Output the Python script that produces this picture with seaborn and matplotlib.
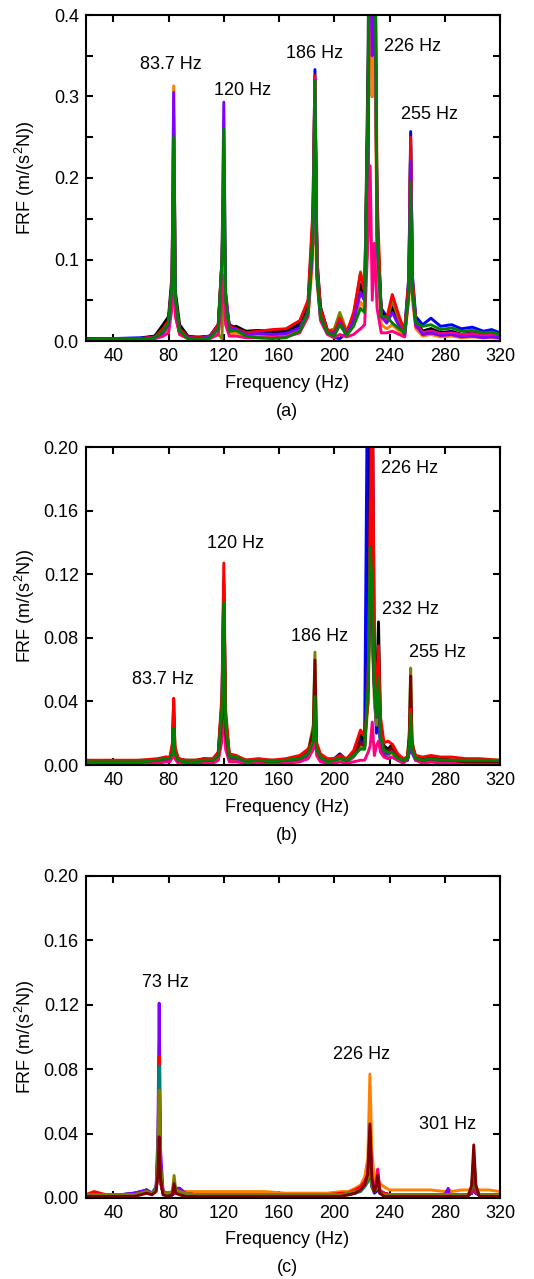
import numpy as np, pandas as pd
import matplotlib
matplotlib.use("Agg")
import matplotlib.pyplot as plt
import seaborn as sns
from matplotlib.ticker import MultipleLocator, FormatStrFormatter

# ---- panel (a): frequency grid + curves ----
freq_a = [20, 40, 60, 70, 76, 80, 82.5, 83.7, 85, 88,
          94, 102, 110, 116, 118.7, 120, 121.3, 124, 129, 136,
          145, 155, 165, 175, 181, 184.5, 186, 187.5, 190, 195,
          200, 204, 209, 214, 219, 222, 224.5, 226, 227.5, 229,
          231, 234, 238, 242, 247, 251, 254, 255.3, 256.6, 259,
          264, 270, 277, 285, 292, 300, 308, 314, 320]
a_blue = [0.003, 0.003, 0.004, 0.006, 0.014, 0.025, 0.07, 0.18, 0.05, 0.015,
          0.005, 0.005, 0.006, 0.02, 0.09, 0.15, 0.05, 0.02, 0.016, 0.01,
          0.012, 0.01, 0.012, 0.02, 0.045, 0.15, 0.333, 0.10, 0.04, 0.012,
          0.004, 0.003, 0.01, 0.03, 0.06, 0.05, 0.25, 0.65, 0.35, 0.6,
          0.14, 0.04, 0.03, 0.042, 0.025, 0.015, 0.08, 0.257, 0.08, 0.03,
          0.02, 0.028, 0.018, 0.02, 0.015, 0.017, 0.012, 0.014, 0.01]
a_navy = [0.002, 0.003, 0.003, 0.005, 0.012, 0.022, 0.06, 0.16, 0.045, 0.012,
          0.004, 0.004, 0.005, 0.018, 0.08, 0.14, 0.045, 0.018, 0.015, 0.008,
          0.01, 0.009, 0.011, 0.018, 0.04, 0.14, 0.29, 0.09, 0.042, 0.013,
          0.012, 0.02, 0.01, 0.028, 0.07, 0.055, 0.3, 0.7, 0.4, 0.55,
          0.13, 0.035, 0.025, 0.045, 0.022, 0.012, 0.07, 0.24, 0.07, 0.025,
          0.012, 0.015, 0.01, 0.012, 0.008, 0.01, 0.007, 0.008, 0.006]
a_black = [0.002, 0.002, 0.003, 0.006, 0.02, 0.03, 0.08, 0.275, 0.06, 0.02,
           0.006, 0.004, 0.006, 0.02, 0.1, 0.18, 0.05, 0.015, 0.018, 0.012,
           0.013, 0.012, 0.013, 0.022, 0.04, 0.12, 0.28, 0.09, 0.035, 0.012,
           0.01, 0.025, 0.008, 0.025, 0.065, 0.05, 0.35, 0.8, 0.3, 0.5,
           0.15, 0.035, 0.028, 0.04, 0.02, 0.01, 0.06, 0.2, 0.06, 0.022,
           0.012, 0.015, 0.01, 0.011, 0.008, 0.009, 0.006, 0.007, 0.005]
a_olive = [0.002, 0.002, 0.003, 0.004, 0.008, 0.015, 0.05, 0.14, 0.03, 0.01,
           0.004, 0.003, 0.004, 0.008, 0.003, 0.1, 0.03, 0.01, 0.012, 0.007,
           0.008, 0.007, 0.008, 0.015, 0.035, 0.12, 0.3, 0.08, 0.03, 0.012,
           0.015, 0.035, 0.012, 0.03, 0.085, 0.06, 0.3, 0.6, 0.35, 0.5,
           0.12, 0.03, 0.025, 0.05, 0.025, 0.012, 0.07, 0.245, 0.07, 0.02,
           0.01, 0.012, 0.008, 0.009, 0.006, 0.007, 0.005, 0.006, 0.004]
a_orange = [0.002, 0.002, 0.002, 0.003, 0.006, 0.012, 0.06, 0.313, 0.04, 0.008,
            0.003, 0.003, 0.004, 0.01, 0.06, 0.12, 0.03, 0.008, 0.01, 0.006,
            0.006, 0.005, 0.006, 0.012, 0.03, 0.1, 0.27, 0.07, 0.03, 0.01,
            0.008, 0.02, 0.008, 0.02, 0.048, 0.04, 0.25, 0.55, 0.3, 0.45,
            0.1, 0.02, 0.015, 0.02, 0.012, 0.006, 0.05, 0.18, 0.05, 0.015,
            0.006, 0.008, 0.005, 0.006, 0.004, 0.005, 0.004, 0.004, 0.003]
a_red = [0.002, 0.003, 0.003, 0.005, 0.015, 0.025, 0.07, 0.2, 0.05, 0.015,
         0.005, 0.004, 0.006, 0.02, 0.1, 0.2, 0.06, 0.018, 0.015, 0.01,
         0.012, 0.014, 0.015, 0.025, 0.05, 0.16, 0.326, 0.1, 0.04, 0.014,
         0.01, 0.028, 0.01, 0.035, 0.083, 0.06, 0.13, 0.75, 0.45, 0.65,
         0.18, 0.03, 0.028, 0.057, 0.03, 0.012, 0.075, 0.25, 0.075, 0.025,
         0.008, 0.01, 0.007, 0.008, 0.006, 0.007, 0.005, 0.006, 0.004]
a_pink = [0.002, 0.002, 0.002, 0.003, 0.006, 0.01, 0.04, 0.12, 0.03, 0.008,
          0.003, 0.002, 0.003, 0.008, 0.05, 0.08, 0.02, 0.006, 0.006, 0.004,
          0.004, 0.004, 0.005, 0.01, 0.03, 0.12, 0.323, 0.08, 0.025, 0.008,
          0.004, 0.008, 0.005, 0.008, 0.015, 0.02, 0.13, 0.215, 0.05, 0.12,
          0.04, 0.01, 0.01, 0.012, 0.008, 0.005, 0.06, 0.21, 0.06, 0.018,
          0.01, 0.012, 0.009, 0.01, 0.008, 0.009, 0.007, 0.008, 0.006]
a_purple = [0.002, 0.002, 0.003, 0.004, 0.01, 0.02, 0.07, 0.305, 0.05, 0.012,
            0.004, 0.003, 0.005, 0.015, 0.1, 0.293, 0.06, 0.015, 0.014, 0.008,
            0.009, 0.008, 0.009, 0.016, 0.035, 0.12, 0.3, 0.08, 0.03, 0.01,
            0.008, 0.022, 0.008, 0.025, 0.06, 0.05, 0.28, 0.6, 0.35, 0.55,
            0.12, 0.03, 0.022, 0.035, 0.018, 0.008, 0.06, 0.22, 0.06, 0.02,
            0.008, 0.01, 0.007, 0.008, 0.005, 0.006, 0.004, 0.005, 0.004]
a_green = [0.002, 0.002, 0.002, 0.004, 0.012, 0.022, 0.07, 0.25, 0.05, 0.012,
           0.003, 0.002, 0.004, 0.015, 0.1, 0.26, 0.05, 0.012, 0.013, 0.006,
           0.004, 0.003, 0.004, 0.012, 0.035, 0.13, 0.32, 0.08, 0.03, 0.01,
           0.006, 0.02, 0.007, 0.018, 0.04, 0.035, 0.3, 0.7, 0.4, 0.6,
           0.13, 0.03, 0.03, 0.022, 0.015, 0.01, 0.06, 0.195, 0.06, 0.022,
           0.018, 0.02, 0.014, 0.016, 0.012, 0.013, 0.01, 0.011, 0.008]

# ---- panel (b) ----
freq_b = [20, 40, 60, 72, 78, 81, 82.8, 83.7, 84.6, 87,
          92, 100, 106, 112, 116, 118.7, 120, 121.3, 124, 129,
          136, 145, 155, 165, 175, 181, 184.8, 186, 187.2, 190,
          195, 200, 204, 209, 214, 219, 222, 224.5, 226, 227.5,
          229, 230.5, 232, 233.5, 236, 239, 242, 246, 250, 253,
          254.3, 255.3, 256.3, 259, 264, 270, 277, 285, 295, 305,
          320]
b_navy = [0.002, 0.002, 0.002, 0.003, 0.004, 0.004, 0.008, 0.018, 0.006, 0.003,
          0.002, 0.002, 0.003, 0.003, 0.006, 0.03, 0.09, 0.02, 0.005, 0.004,
          0.002, 0.003, 0.002, 0.003, 0.004, 0.007, 0.012, 0.03, 0.01, 0.006,
          0.003, 0.004, 0.007, 0.003, 0.007, 0.016, 0.012, 0.09, 0.35, 0.25,
          0.08, 0.03, 0.04, 0.015, 0.01, 0.008, 0.01, 0.005, 0.003, 0.004,
          0.01, 0.025, 0.01, 0.004, 0.003, 0.004, 0.003, 0.003, 0.002, 0.002,
          0.002]
b_blue = [0.003, 0.002, 0.002, 0.002, 0.003, 0.003, 0.007, 0.015, 0.005, 0.002,
          0.002, 0.002, 0.002, 0.002, 0.004, 0.02, 0.08, 0.015, 0.003, 0.003,
          0.002, 0.002, 0.002, 0.002, 0.003, 0.005, 0.01, 0.025, 0.008, 0.003,
          0.001, 0.003, 0.006, 0.002, 0.005, 0.012, 0.02, 0.3, 0.25, 0.08,
          0.05, 0.02, 0.03, 0.012, 0.006, 0.004, 0.005, 0.003, 0.002, 0.003,
          0.008, 0.02, 0.008, 0.003, 0.002, 0.002, 0.002, 0.001, 0.001, 0.001,
          0.001]
b_black = [0.002, 0.002, 0.003, 0.003, 0.005, 0.004, 0.012, 0.040, 0.01, 0.004,
           0.003, 0.003, 0.004, 0.003, 0.008, 0.04, 0.114, 0.03, 0.006, 0.005,
           0.003, 0.003, 0.003, 0.003, 0.005, 0.008, 0.015, 0.035, 0.012, 0.006,
           0.003, 0.003, 0.005, 0.003, 0.008, 0.019, 0.015, 0.05, 0.12, 0.1,
           0.05, 0.04, 0.09, 0.025, 0.012, 0.01, 0.013, 0.006, 0.003, 0.004,
           0.01, 0.03, 0.01, 0.005, 0.004, 0.005, 0.004, 0.003, 0.003, 0.003,
           0.002]
b_olive = [0.002, 0.002, 0.002, 0.002, 0.003, 0.003, 0.008, 0.02, 0.006, 0.002,
           0.002, 0.002, 0.002, 0.002, 0.004, 0.02, 0.07, 0.015, 0.003, 0.003,
           0.002, 0.002, 0.002, 0.002, 0.004, 0.008, 0.025, 0.071, 0.012, 0.004,
           0.002, 0.002, 0.004, 0.002, 0.005, 0.012, 0.01, 0.04, 0.1, 0.08,
           0.04, 0.025, 0.04, 0.015, 0.008, 0.006, 0.008, 0.004, 0.002, 0.005,
           0.02, 0.061, 0.015, 0.004, 0.002, 0.003, 0.002, 0.002, 0.002, 0.002,
           0.001]
b_purple = [0.002, 0.002, 0.002, 0.002, 0.003, 0.003, 0.008, 0.02, 0.006, 0.003,
            0.002, 0.002, 0.003, 0.003, 0.006, 0.04, 0.116, 0.025, 0.004, 0.004,
            0.002, 0.002, 0.002, 0.002, 0.003, 0.006, 0.012, 0.03, 0.01, 0.004,
            0.002, 0.003, 0.005, 0.002, 0.006, 0.014, 0.012, 0.06, 0.1, 0.09,
            0.05, 0.03, 0.045, 0.015, 0.008, 0.007, 0.009, 0.004, 0.002, 0.003,
            0.008, 0.025, 0.008, 0.003, 0.002, 0.003, 0.002, 0.002, 0.002, 0.002,
            0.002]
b_pink = [0.001, 0.001, 0.001, 0.001, 0.002, 0.002, 0.005, 0.012, 0.004, 0.001,
          0.001, 0.001, 0.001, 0.001, 0.003, 0.015, 0.05, 0.01, 0.002, 0.002,
          0.001, 0.001, 0.001, 0.001, 0.002, 0.004, 0.01, 0.03, 0.006, 0.002,
          0.001, 0.001, 0.002, 0.001, 0.002, 0.003, 0.003, 0.008, 0.012, 0.027,
          0.006, 0.012, 0.015, 0.008, 0.005, 0.004, 0.005, 0.003, 0.001, 0.004,
          0.012, 0.035, 0.01, 0.003, 0.001, 0.002, 0.001, 0.001, 0.001, 0.001,
          0.001]
b_maroon = [0.002, 0.002, 0.002, 0.003, 0.004, 0.004, 0.01, 0.031, 0.008, 0.003,
            0.002, 0.002, 0.003, 0.003, 0.006, 0.03, 0.09, 0.02, 0.005, 0.005,
            0.003, 0.003, 0.002, 0.003, 0.004, 0.008, 0.022, 0.066, 0.012, 0.005,
            0.003, 0.003, 0.005, 0.003, 0.007, 0.014, 0.012, 0.05, 0.167, 0.12,
            0.05, 0.035, 0.06, 0.02, 0.01, 0.009, 0.011, 0.005, 0.003, 0.005,
            0.018, 0.056, 0.014, 0.004, 0.003, 0.004, 0.003, 0.003, 0.002, 0.002,
            0.002]
b_red = [0.003, 0.003, 0.003, 0.004, 0.005, 0.005, 0.014, 0.042, 0.012, 0.004,
         0.003, 0.003, 0.004, 0.004, 0.008, 0.045, 0.127, 0.035, 0.007, 0.006,
         0.003, 0.004, 0.003, 0.004, 0.006, 0.01, 0.015, 0.035, 0.014, 0.007,
         0.004, 0.004, 0.006, 0.004, 0.009, 0.022, 0.018, 0.04, 0.15, 0.25,
         0.07, 0.04, 0.075, 0.03, 0.014, 0.015, 0.013, 0.007, 0.004, 0.005,
         0.012, 0.035, 0.012, 0.006, 0.005, 0.006, 0.005, 0.005, 0.004, 0.004,
         0.003]
b_green = [0.002, 0.002, 0.002, 0.003, 0.004, 0.004, 0.008, 0.023, 0.007, 0.003,
           0.002, 0.002, 0.003, 0.003, 0.006, 0.035, 0.102, 0.025, 0.005, 0.005,
           0.002, 0.003, 0.002, 0.003, 0.004, 0.007, 0.015, 0.043, 0.01, 0.005,
           0.002, 0.003, 0.004, 0.003, 0.006, 0.01, 0.01, 0.05, 0.137, 0.11,
           0.05, 0.03, 0.055, 0.018, 0.009, 0.008, 0.008, 0.004, 0.003, 0.004,
           0.012, 0.032, 0.01, 0.004, 0.003, 0.004, 0.003, 0.003, 0.003, 0.003,
           0.003]

# ---- panel (c) ----
freq_c = [20, 26, 35, 45, 55, 60, 64, 68, 71, 72.3,
          73.2, 74.2, 76, 79, 82.8, 84, 85.2, 88, 92, 100,
          110, 120, 135, 150, 165, 180, 195, 205, 210, 215,
          219, 222, 224.3, 225.8, 227.2, 229, 230.5, 231.5, 233, 236,
          240, 250, 260, 270, 280, 282.5, 283.5, 285, 292, 297,
          299.5, 301, 302.5, 305, 312, 320]
c_blue = [0.002, 0.002, 0.002, 0.002, 0.002, 0.003, 0.005, 0.003, 0.006, 0.02,
          0.04, 0.012, 0.003, 0.002, 0.002, 0.004, 0.006, 0.006, 0.003, 0.002,
          0.002, 0.002, 0.002, 0.002, 0.002, 0.002, 0.002, 0.003, 0.003, 0.004,
          0.006, 0.01, 0.015, 0.02, 0.008, 0.003, 0.004, 0.006, 0.003, 0.003,
          0.002, 0.002, 0.002, 0.002, 0.002, 0.002, 0.002, 0.002, 0.002, 0.002,
          0.003, 0.008, 0.003, 0.002, 0.002, 0.002]
c_navy = [0.002, 0.002, 0.002, 0.002, 0.003, 0.004, 0.005, 0.003, 0.006, 0.015,
          0.022, 0.01, 0.003, 0.002, 0.002, 0.003, 0.005, 0.005, 0.003, 0.002,
          0.002, 0.002, 0.002, 0.002, 0.002, 0.002, 0.002, 0.003, 0.003, 0.004,
          0.005, 0.008, 0.012, 0.015, 0.007, 0.004, 0.005, 0.01, 0.004, 0.003,
          0.002, 0.002, 0.002, 0.002, 0.002, 0.002, 0.002, 0.002, 0.002, 0.002,
          0.003, 0.006, 0.003, 0.002, 0.002, 0.001]
c_black = [0.002, 0.002, 0.002, 0.002, 0.002, 0.003, 0.004, 0.003, 0.006, 0.02,
           0.03, 0.01, 0.003, 0.002, 0.002, 0.004, 0.004, 0.004, 0.003, 0.002,
           0.002, 0.002, 0.002, 0.002, 0.002, 0.002, 0.002, 0.003, 0.002, 0.003,
           0.005, 0.008, 0.012, 0.03, 0.01, 0.005, 0.01, 0.015, 0.004, 0.003,
           0.002, 0.002, 0.002, 0.002, 0.002, 0.002, 0.002, 0.002, 0.002, 0.002,
           0.003, 0.01, 0.003, 0.002, 0.002, 0.002]
c_orange = [0.002, 0.002, 0.002, 0.002, 0.002, 0.003, 0.004, 0.003, 0.005, 0.015,
            0.03, 0.01, 0.003, 0.003, 0.004, 0.006, 0.006, 0.005, 0.004, 0.004,
            0.004, 0.004, 0.004, 0.004, 0.003, 0.003, 0.003, 0.004, 0.004, 0.006,
            0.008, 0.013, 0.025, 0.077, 0.03, 0.012, 0.01, 0.012, 0.009, 0.007,
            0.005, 0.005, 0.005, 0.005, 0.004, 0.004, 0.005, 0.004, 0.005, 0.005,
            0.006, 0.012, 0.006, 0.005, 0.005, 0.004]
c_pink = [0.002, 0.002, 0.002, 0.002, 0.002, 0.003, 0.004, 0.003, 0.005, 0.02,
          0.035, 0.01, 0.003, 0.002, 0.002, 0.003, 0.004, 0.004, 0.002, 0.002,
          0.002, 0.002, 0.002, 0.002, 0.002, 0.002, 0.002, 0.002, 0.003, 0.004,
          0.006, 0.01, 0.015, 0.035, 0.01, 0.006, 0.012, 0.018, 0.005, 0.003,
          0.002, 0.002, 0.002, 0.002, 0.002, 0.002, 0.002, 0.002, 0.002, 0.002,
          0.004, 0.013, 0.004, 0.002, 0.002, 0.002]
c_red = [0.002, 0.004, 0.002, 0.002, 0.002, 0.003, 0.004, 0.003, 0.006, 0.03,
         0.088, 0.02, 0.004, 0.003, 0.003, 0.006, 0.005, 0.004, 0.003, 0.002,
         0.002, 0.002, 0.002, 0.002, 0.002, 0.002, 0.002, 0.003, 0.003, 0.005,
         0.007, 0.01, 0.015, 0.03, 0.01, 0.005, 0.008, 0.012, 0.004, 0.003,
         0.002, 0.002, 0.002, 0.002, 0.002, 0.002, 0.002, 0.002, 0.002, 0.002,
         0.004, 0.013, 0.004, 0.002, 0.002, 0.002]
c_teal = [0.002, 0.002, 0.002, 0.002, 0.002, 0.003, 0.004, 0.003, 0.006, 0.03,
          0.082, 0.02, 0.003, 0.002, 0.003, 0.01, 0.005, 0.004, 0.002, 0.002,
          0.002, 0.002, 0.002, 0.002, 0.002, 0.002, 0.002, 0.002, 0.002, 0.003,
          0.004, 0.007, 0.01, 0.02, 0.008, 0.004, 0.006, 0.01, 0.003, 0.002,
          0.002, 0.002, 0.002, 0.002, 0.002, 0.002, 0.002, 0.002, 0.002, 0.002,
          0.006, 0.024, 0.006, 0.002, 0.002, 0.002]
c_olive = [0.002, 0.002, 0.002, 0.002, 0.002, 0.003, 0.004, 0.003, 0.005, 0.025,
           0.067, 0.018, 0.003, 0.003, 0.004, 0.014, 0.005, 0.004, 0.003, 0.002,
           0.002, 0.002, 0.002, 0.002, 0.002, 0.002, 0.002, 0.002, 0.003, 0.004,
           0.005, 0.008, 0.012, 0.025, 0.008, 0.004, 0.006, 0.01, 0.003, 0.002,
           0.002, 0.002, 0.002, 0.002, 0.002, 0.002, 0.002, 0.002, 0.002, 0.002,
           0.007, 0.027, 0.007, 0.002, 0.002, 0.002]
c_purple = [0.002, 0.002, 0.002, 0.002, 0.003, 0.004, 0.005, 0.003, 0.007, 0.04,
            0.121, 0.03, 0.004, 0.003, 0.003, 0.005, 0.006, 0.006, 0.003, 0.002,
            0.002, 0.002, 0.002, 0.002, 0.002, 0.002, 0.002, 0.002, 0.003, 0.004,
            0.006, 0.009, 0.014, 0.042, 0.012, 0.004, 0.006, 0.008, 0.003, 0.002,
            0.002, 0.002, 0.002, 0.002, 0.002, 0.006, 0.002, 0.002, 0.002, 0.002,
            0.003, 0.008, 0.003, 0.002, 0.002, 0.002]
c_maroon = [0.001, 0.001, 0.001, 0.001, 0.001, 0.002, 0.003, 0.002, 0.004, 0.015,
            0.038, 0.012, 0.002, 0.001, 0.002, 0.009, 0.003, 0.002, 0.001, 0.001,
            0.001, 0.001, 0.001, 0.001, 0.001, 0.001, 0.001, 0.001, 0.002, 0.003,
            0.005, 0.008, 0.015, 0.046, 0.012, 0.004, 0.008, 0.014, 0.003, 0.001,
            0.001, 0.001, 0.001, 0.001, 0.001, 0.001, 0.001, 0.001, 0.001, 0.001,
            0.008, 0.033, 0.008, 0.001, 0.001, 0.001]

# peak labels: (text, x, y)
labels_a = [("83.7 Hz", 82, 0.339), ("120 Hz", 133.5, 0.307), ("186 Hz", 186, 0.353),
            ("226 Hz", 256.5, 0.361), ("255 Hz", 269, 0.2785)]
labels_b = [("83.7 Hz", 75.6, 0.0535), ("120 Hz", 128.5, 0.1394), ("186 Hz", 189, 0.0811),
            ("226 Hz", 254.6, 0.1866), ("232 Hz", 255.2, 0.0981), ("255 Hz", 275, 0.0709)]
labels_c = [("73 Hz", 78, 0.1339), ("226 Hz", 220, 0.0894), ("301 Hz", 282.3, 0.0455)]

colors = {"blue": "#0000FF", "navy": "#000080", "black": "#000000", "olive": "#808000",
          "orange": "#FF8000", "red": "#FF0000", "pink": "#FF0080", "purple": "#8000FF",
          "green": "#008000", "maroon": "#800000", "teal": "#008080"}

sns.set_style("ticks")
plt.rcParams["font.family"] = ["Liberation Sans", "DejaVu Sans"]
plt.rcParams["mathtext.fontset"] = "custom"
plt.rcParams["mathtext.rm"] = "Liberation Sans"
plt.rcParams["mathtext.it"] = "Liberation Sans:italic"
for key in ["text.color", "axes.labelcolor", "xtick.color", "ytick.color", "axes.edgecolor"]:
    plt.rcParams[key] = "black"


def long_frame(freq, curves):
    parts = [pd.DataFrame({"f": freq, "frf": vals, "curve": name}) for name, vals in curves]
    return pd.concat(parts, ignore_index=True)


panels = [
    (freq_a, [("blue", a_blue), ("navy", a_navy), ("black", a_black), ("olive", a_olive),
              ("orange", a_orange), ("red", a_red), ("pink", a_pink), ("purple", a_purple),
              ("green", a_green)], 0.4, 0.1, "%.1f", labels_a, "(a)"),
    (freq_b, [("navy", b_navy), ("blue", b_blue), ("black", b_black), ("olive", b_olive),
              ("purple", b_purple), ("pink", b_pink), ("maroon", b_maroon), ("red", b_red),
              ("green", b_green)], 0.2, 0.04, "%.2f", labels_b, "(b)"),
    (freq_c, [("blue", c_blue), ("navy", c_navy), ("black", c_black), ("orange", c_orange),
              ("pink", c_pink), ("purple", c_purple), ("red", c_red), ("teal", c_teal),
              ("olive", c_olive), ("maroon", c_maroon)], 0.2, 0.04, "%.2f", labels_c, "(c)"),
]

W, H = 534, 1279
fig = plt.figure(figsize=(W / 100, H / 100), dpi=100)
# axes boxes in pixels: (top, bottom)
boxes = [(15, 341), (447, 765), (876, 1198)]
left_px, right_px = 85.7, 500

for (freq, curves, ytop, ystep, fmt, labels, tag), (tp, bt) in zip(panels, boxes):
    ax = fig.add_axes([left_px / W, 1 - bt / H, (right_px - left_px) / W, (bt - tp) / H])
    df = long_frame(freq, curves)
    order = [n for n, _ in curves]
    sns.lineplot(data=df, x="f", y="frf", hue="curve", hue_order=order,
                 palette={n: colors[n] for n in order}, estimator=None, sort=False,
                 lw=2.1, legend=False, ax=ax)
    ax.set_xlim(20, 320)
    ax.set_ylim(0, ytop)
    ax.xaxis.set_major_locator(MultipleLocator(40))
    ax.yaxis.set_major_locator(MultipleLocator(ystep))
    ax.yaxis.set_major_formatter(FormatStrFormatter(fmt))
    if tag == "(a)":
        ax.yaxis.set_minor_locator(MultipleLocator(0.05))
        ax.tick_params(which="minor", axis="y", direction="in", left=True, right=True,
                       length=5, width=1.5)
    ax.tick_params(which="major", direction="in", top=True, right=True, length=5,
                   width=1.5, labelsize=13, pad=5)
    for s in ax.spines.values():
        s.set_linewidth(1.5)
        s.set_visible(True)
    ax.set_xlabel("Frequency (Hz)", fontsize=13)
    ax.set_ylabel("FRF (m/(s$^{2}$N))", fontsize=13)
    hpx = bt - tp
    ax.xaxis.set_label_coords(0.485, -42 / hpx)
    ax.xaxis.label.set_verticalalignment("center")
    ax.yaxis.set_label_coords(-0.1465, 0.5)
    ax.yaxis.label.set_verticalalignment("center")
    for txt, x, y in labels:
        ax.text(x, y, txt, ha="center", va="center", fontsize=13)
    fig.text(0.538, 1 - (bt + 70) / H, tag, ha="center", va="center", fontsize=13)

fig.savefig("out.png", dpi=100, facecolor="white")
